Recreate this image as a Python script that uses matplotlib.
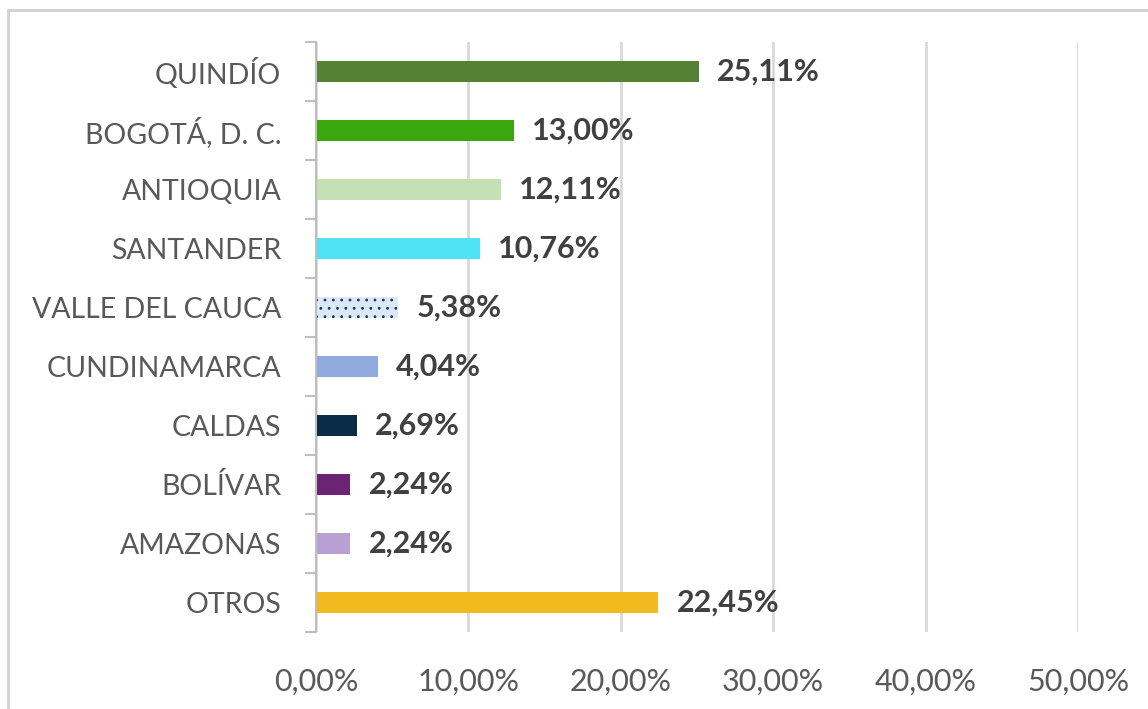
import numpy as np
import matplotlib.pyplot as plt
from matplotlib.patches import Rectangle

# data, top to bottom
categories = ["QUINDÍO", "BOGOTÁ, D. C.", "ANTIOQUIA", "SANTANDER", "VALLE DEL CAUCA",
              "CUNDINAMARCA", "CALDAS", "BOLÍVAR", "AMAZONAS", "OTROS"]
values = [25.11, 13.00, 12.11, 10.76, 5.38, 4.04, 2.69, 2.24, 2.24, 22.45]
colors = ["#548235", "#3aa80c", "#c5e0b4", "#4fe3f5", "#dae8f7",
          "#8faadc", "#0b2c47", "#6b2374", "#b9a0d2", "#f2ba1e"]
xticks = [0, 10, 20, 30, 40, 50]

plt.rcParams['font.family'] = ['Lato', 'DejaVu Sans']
plt.rcParams['hatch.linewidth'] = 0.8

fig = plt.figure(figsize=(11.48, 7.09), dpi=100)
ax = fig.add_axes([316 / 1148, 1 - 632 / 709, (1078 - 316) / 1148, (632 - 42) / 709])

n = len(categories)
y = np.arange(n)[::-1]
bars = ax.barh(y, values, height=0.34, color=colors, edgecolor="none")
# dotted fill on VALLE DEL CAUCA
bars[4].set_hatch("..")
bars[4].set_edgecolor("#1f3550")
bars[4].set_linewidth(0)

for yi, v in zip(y, values):
    ax.text(v + 1.2, yi, f"{v:.2f}%".replace(".", ","), va="center", ha="left",
            fontsize=22, fontweight="bold", color="#404040")

ax.set_xlim(0, 50)
ax.set_ylim(-0.5, n - 0.5)
ax.set_xticks(xticks)
ax.set_xticklabels([f"{t:.2f}%".replace(".", ",") for t in xticks])
ax.set_yticks(y)
ax.set_yticklabels(categories)
ax.set_yticks(np.arange(n + 1) - 0.5, minor=True)

ax.tick_params(axis="x", length=0, pad=26, labelsize=22, labelcolor="#595959")
ax.tick_params(axis="y", which="major", length=0, pad=25, labelsize=20.5, labelcolor="#595959")
ax.tick_params(axis="y", which="minor", length=8, width=1.5, color="#bfbfbf")

ax.grid(axis="x", color="#d9d9d9", linewidth=2)
ax.set_axisbelow(True)
for s in ["top", "right", "bottom"]:
    ax.spines[s].set_visible(False)
ax.spines["left"].set_color("#bfbfbf")
ax.spines["left"].set_linewidth(1.5)

# outer chart border
fig.patches.append(Rectangle((8 / 1148, -0.1), 1.2, 1 - 10 / 709 + 0.1, transform=fig.transFigure,
                             fill=False, edgecolor="#d0d0d0", linewidth=2))

fig.savefig("out.png", dpi=100)
